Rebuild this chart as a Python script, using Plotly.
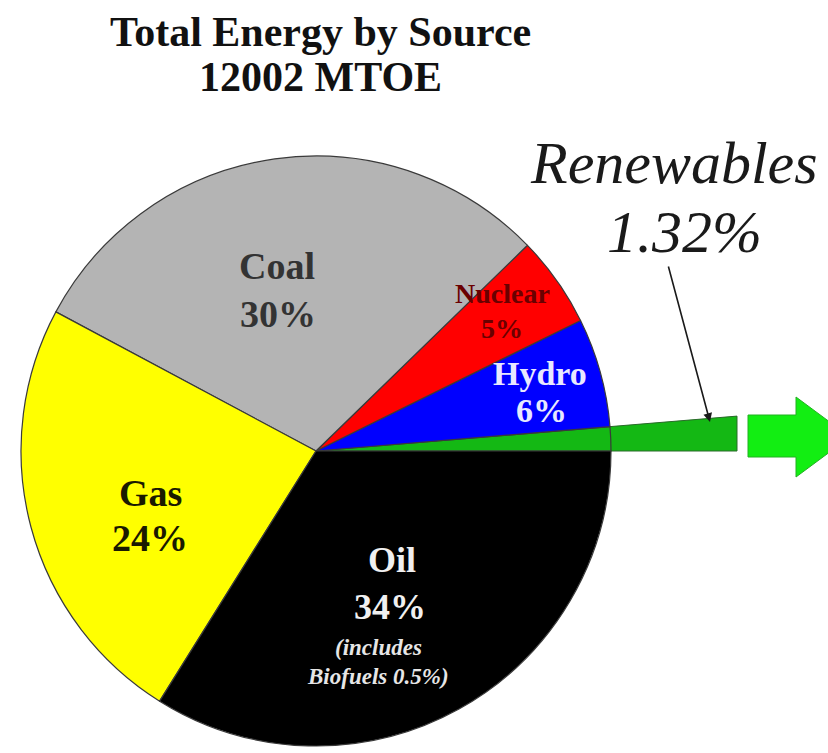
import numpy as np
import plotly.graph_objects as go

# data
sources = ["Renewables", "Hydro", "Nuclear", "Coal", "Gas", "Oil"]
shares = [1.32, 6, 5, 30, 24, 34]
biofuels_share = 0.5
total_mtoe = 12002

# styling
COLORS = ["#14b814", "#0000ff", "#ff0000", "#b4b4b4", "#ffff00", "#000000"]
SERIF = "Liberation Serif, Times New Roman, serif"
W, H = 828, 753
CX, CY, R = 316, 451, 295          # pie centre / radius in page pixels
WEDGE_END_X = 737                  # where the pulled-out renewables wedge stops

# label positions (page pixels): name line, percent line, font size, colour
LABELS = {
    "Hydro":   ((540, 373), (541, 410), 34, "#e8e8ff"),
    "Nuclear": ((502, 293), (502, 328), 28, "#6a0000"),
    "Coal":    ((277, 266), (278, 314), 38, "#333333"),
    "Gas":     ((150, 493), (150, 538), 38, "#1a1a00"),
    "Oil":     ((392, 560), (390, 607), 36, "#f0f0f0"),
}

fig = go.Figure()

span_deg = 360 * shares[0] / sum(shares)
fig.add_trace(go.Pie(
    labels=sources,
    values=shares,
    sort=False,
    direction="counterclockwise",
    rotation=90 - span_deg,
    marker=dict(colors=COLORS, line=dict(color="#3a3a3a", width=1.2)),
    textinfo="none",
    hoverinfo="label+value",
    showlegend=False,
    domain=dict(x=[(CX - R) / W, (CX + R) / W],
                y=[(H - CY - R) / H, (H - CY + R) / H]),
))

# renewables wedge pulled far out to the right, angles from the data
span = np.deg2rad(span_deg)
L = WEDGE_END_X - CX
wx = [CX, WEDGE_END_X, WEDGE_END_X, CX]
wy = [CY, CY, CY - L * np.tan(span), CY]
fig.add_trace(go.Scatter(
    x=wx, y=wy, mode="lines", fill="toself",
    fillcolor="#14b814", line=dict(color="#2a6a2a", width=1),
    hoverinfo="skip", showlegend=False,
))

ann = []
# title
ann.append(dict(x=320, y=32, text="<b>Total Energy by Source</b>",
                font=dict(family=SERIF, size=42, color="#111111")))
ann.append(dict(x=320, y=77, text=f"<b>{total_mtoe} MTOE</b>",
                font=dict(family=SERIF, size=42, color="#111111")))

for name, share in zip(sources, shares):
    if name not in LABELS:
        continue
    (nx, ny), (px, py), size, col = LABELS[name]
    ann.append(dict(x=nx, y=ny, text=f"<b>{name}</b>",
                    font=dict(family=SERIF, size=size, color=col)))
    ann.append(dict(x=px, y=py, text=f"<b>{share:g}%</b>",
                    font=dict(family=SERIF, size=size, color=col)))

ann.append(dict(x=378, y=647, text="<b><i>(includes</i></b>",
                font=dict(family=SERIF, size=23, color="#e6e6e6")))
ann.append(dict(x=378, y=676, text=f"<b><i>Biofuels {biofuels_share}%)</i></b>",
                font=dict(family=SERIF, size=23, color="#e6e6e6")))

# renewables callout
ann.append(dict(x=528, y=163, text=f"<i>{sources[0]}</i>", xanchor="left",
                font=dict(family=SERIF, size=60, color="#1a1a1a")))
ann.append(dict(x=684, y=232, text=f"<i>{shares[0]}%</i>",
                font=dict(family=SERIF, size=60, color="#1a1a1a")))

for a in ann:
    a.setdefault("showarrow", False)
    a.setdefault("xref", "x")
    a.setdefault("yref", "y")

ann.append(dict(x=710, y=422, ax=668, ay=265, xref="x", yref="y", axref="x", ayref="y",
                showarrow=True, arrowhead=2, arrowsize=1.1, arrowwidth=1.6,
                arrowcolor="#1a1a1a", text=""))

# big green arrow on the right edge
fig.add_shape(type="path", xref="x", yref="y",
              path="M748,415 L796,415 L796,397 L850,437 L796,477 L796,457 L748,457 Z",
              fillcolor="#12ee12", line=dict(color="#22b022", width=1))

fig.update_layout(
    width=W, height=H,
    margin=dict(l=0, r=0, t=0, b=0),
    paper_bgcolor="white", plot_bgcolor="rgba(0,0,0,0)",
    xaxis=dict(range=[0, W], visible=False, fixedrange=True),
    yaxis=dict(range=[H, 0], visible=False, fixedrange=True),
    annotations=ann,
)

# drop the browser's default body margin so the figure sits at the page corner
fig.write_html("out.html", config={"displayModeBar": False},
               post_script="document.body.style.margin='0';")
